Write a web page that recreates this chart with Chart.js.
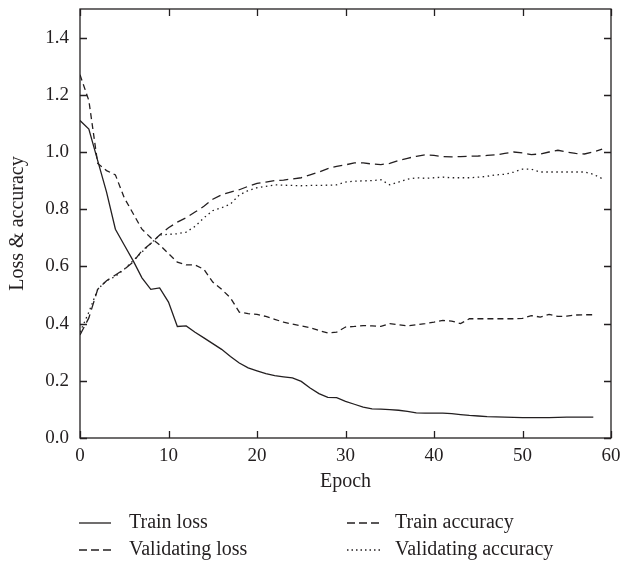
<!DOCTYPE html>
<html>
<head>
<meta charset="utf-8">
<script src="https://cdn.jsdelivr.net/npm/chart.js@4.4.1/dist/chart.umd.min.js"></script>
<style>
  html, body { margin: 0; padding: 0; background: #fff; }
</style>
</head>
<body>
<canvas id="lossChart" width="634" height="567"></canvas>
<script>
// values, one per epoch (index = epoch)
const trainLoss = [1.11, 1.08, 0.97, 0.86, 0.73, 0.675, 0.62, 0.56, 0.52, 0.525,
  0.475, 0.39, 0.392, 0.37, 0.35, 0.33, 0.31, 0.285, 0.262, 0.245,
  0.235, 0.225, 0.218, 0.214, 0.21, 0.198, 0.175, 0.155, 0.142, 0.141,
  0.128, 0.118, 0.108, 0.102, 0.101, 0.099, 0.097, 0.093, 0.088, 0.087,
  0.087, 0.087, 0.085, 0.082, 0.079, 0.077, 0.075, 0.074, 0.073, 0.072,
  0.071, 0.071, 0.071, 0.071, 0.072, 0.073, 0.073, 0.073, 0.073];
const validLoss = [1.27, 1.18, 0.96, 0.935, 0.92, 0.84, 0.785, 0.73, 0.70, 0.675,
  0.645, 0.615, 0.605, 0.605, 0.59, 0.545, 0.52, 0.49, 0.44, 0.435,
  0.432, 0.425, 0.415, 0.405, 0.398, 0.392, 0.386, 0.376, 0.367, 0.37,
  0.388, 0.39, 0.393, 0.392, 0.39, 0.40, 0.396, 0.392, 0.396, 0.40,
  0.405, 0.411, 0.409, 0.40, 0.417, 0.417, 0.417, 0.417, 0.417, 0.417,
  0.418, 0.428, 0.423, 0.432, 0.425, 0.426, 0.43, 0.431, 0.431];
const trainAcc = [0.36, 0.42, 0.52, 0.55, 0.57, 0.59, 0.615, 0.655, 0.68, 0.71,
  0.735, 0.755, 0.77, 0.79, 0.81, 0.835, 0.85, 0.86, 0.868, 0.88,
  0.89, 0.895, 0.90, 0.902, 0.906, 0.91, 0.92, 0.93, 0.942, 0.95,
  0.955, 0.962, 0.962, 0.958, 0.956, 0.96, 0.97, 0.978, 0.985, 0.99,
  0.988, 0.984, 0.983, 0.984, 0.985, 0.986, 0.988, 0.99, 0.995, 1.0,
  0.997, 0.991, 0.993, 1.0, 1.006, 1.0, 0.995, 0.993, 1.0, 1.01];
const validAcc = [0.37, 0.44, 0.52, 0.55, 0.565, 0.59, 0.62, 0.65, 0.68, 0.71,
  0.712, 0.714, 0.72, 0.74, 0.77, 0.795, 0.805, 0.818, 0.85, 0.865,
  0.875, 0.88, 0.885, 0.884, 0.883, 0.882, 0.883, 0.883, 0.884, 0.885,
  0.895, 0.898, 0.899, 0.90, 0.903, 0.885, 0.895, 0.905, 0.91, 0.908,
  0.91, 0.912, 0.91, 0.91, 0.91, 0.912, 0.915, 0.92, 0.922, 0.93,
  0.94, 0.94, 0.93, 0.93, 0.93, 0.93, 0.93, 0.93, 0.922, 0.907];

const xTickValues = [0, 10, 20, 30, 40, 50, 60];
const yTickValues = [0, 0.2, 0.4, 0.6, 0.8, 1.0, 1.2, 1.4];
const seriesNames = ['Train loss', 'Validating loss', 'Train accuracy', 'Validating accuracy'];

const ink = '#231f20';
const serif = "'Liberation Serif', 'DejaVu Serif', serif";
const toPoints = arr => arr.map((v, i) => ({ x: i, y: v }));

Chart.defaults.font.family = serif;
Chart.defaults.font.size = 19;
Chart.defaults.color = ink;

// box round the plot, with ticks pointing inwards on all four sides
const frameTicks = {
  id: 'frameTicks',
  afterDatasetsDraw(chart) {
    const { ctx, chartArea: a, scales: { x, y } } = chart;
    ctx.save();
    ctx.strokeStyle = ink;
    ctx.lineWidth = 1.3;
    ctx.strokeRect(a.left, a.top, a.right - a.left, a.bottom - a.top);
    ctx.beginPath();
    xTickValues.forEach(v => {
      const px = Math.round(x.getPixelForValue(v)) + 0.5;
      ctx.moveTo(px, a.bottom); ctx.lineTo(px, a.bottom - 7);
      ctx.moveTo(px, a.top); ctx.lineTo(px, a.top + 7);
    });
    yTickValues.forEach(v => {
      const py = Math.round(y.getPixelForValue(v)) + 0.5;
      ctx.moveTo(a.left, py); ctx.lineTo(a.left + 7, py);
      ctx.moveTo(a.right, py); ctx.lineTo(a.right - 7, py);
    });
    ctx.stroke();
    ctx.restore();
  }
};

// two-column legend under the axis title
const gridLegend = {
  id: 'gridLegend',
  afterDraw(chart) {
    const { ctx } = chart;
    const slots = [
      { sx: 79, ex: 111, tx: 129, y: 523 },
      { sx: 79, ex: 111, tx: 129, y: 550 },
      { sx: 347, ex: 381, tx: 395, y: 523 },
      { sx: 347, ex: 381, tx: 395, y: 550 }
    ];
    ctx.save();
    chart.data.datasets.forEach((ds, i) => {
      const s = slots[i];
      ctx.strokeStyle = ds.borderColor;
      ctx.lineWidth = ds.borderWidth;
      ctx.setLineDash(ds.legendDash || ds.borderDash || []);
      ctx.beginPath();
      ctx.moveTo(s.sx, s.y); ctx.lineTo(s.ex, s.y);
      ctx.stroke();
      ctx.setLineDash([]);
      ctx.fillStyle = ink;
      ctx.font = '20px ' + serif;
      ctx.textAlign = 'left';
      ctx.textBaseline = 'middle';
      ctx.fillText(ds.label, s.tx, s.y);
    });
    ctx.restore();
  }
};

const line = (label, values, dash, legendDash) => ({
  label,
  data: toPoints(values),
  borderColor: ink,
  borderWidth: 1.3,
  borderDash: dash,
  legendDash,
  pointRadius: 0,
  tension: 0,
  fill: false
});

new Chart(document.getElementById('lossChart'), {
  type: 'line',
  data: {
    datasets: [
      line(seriesNames[0], trainLoss, []),
      line(seriesNames[1], validLoss, [6, 4], [8, 4]),
      line(seriesNames[2], trainAcc, [9, 5], [8, 4]),
      line(seriesNames[3], validAcc, [1.5, 3.5], [1.5, 3])
    ]
  },
  options: {
    responsive: false,
    animation: false,
    devicePixelRatio: 1,
    layout: { padding: { left: 0, right: 23, top: 9, bottom: 69 } },
    plugins: { legend: { display: false }, tooltip: { enabled: false } },
    scales: {
      x: {
        type: 'linear',
        min: 0,
        max: 60,
        grid: { display: false, drawTicks: false },
        border: { display: false },
        afterBuildTicks: s => { s.ticks = xTickValues.map(v => ({ value: v })); },
        afterFit: s => { s.height = 60; s.paddingLeft = 0; s.paddingRight = 0; },
        ticks: { padding: 7, maxRotation: 0, callback: v => String(v) },
        title: { display: true, text: 'Epoch', font: { size: 20 }, padding: { top: 0, bottom: 4 } }
      },
      y: {
        min: 0,
        max: 1.5,
        grid: { display: false, drawTicks: false },
        border: { display: false },
        afterBuildTicks: s => { s.ticks = yTickValues.map(v => ({ value: v })); },
        afterFit: s => { s.width = 80; s.paddingTop = 0; s.paddingBottom = 0; },
        ticks: { padding: 11, callback: v => v.toFixed(1) },
        title: { display: true, text: 'Loss & accuracy', font: { size: 20 }, padding: { top: 6, bottom: 0 } }
      }
    }
  },
  plugins: [frameTicks, gridLegend]
});
</script>
</body>
</html>
